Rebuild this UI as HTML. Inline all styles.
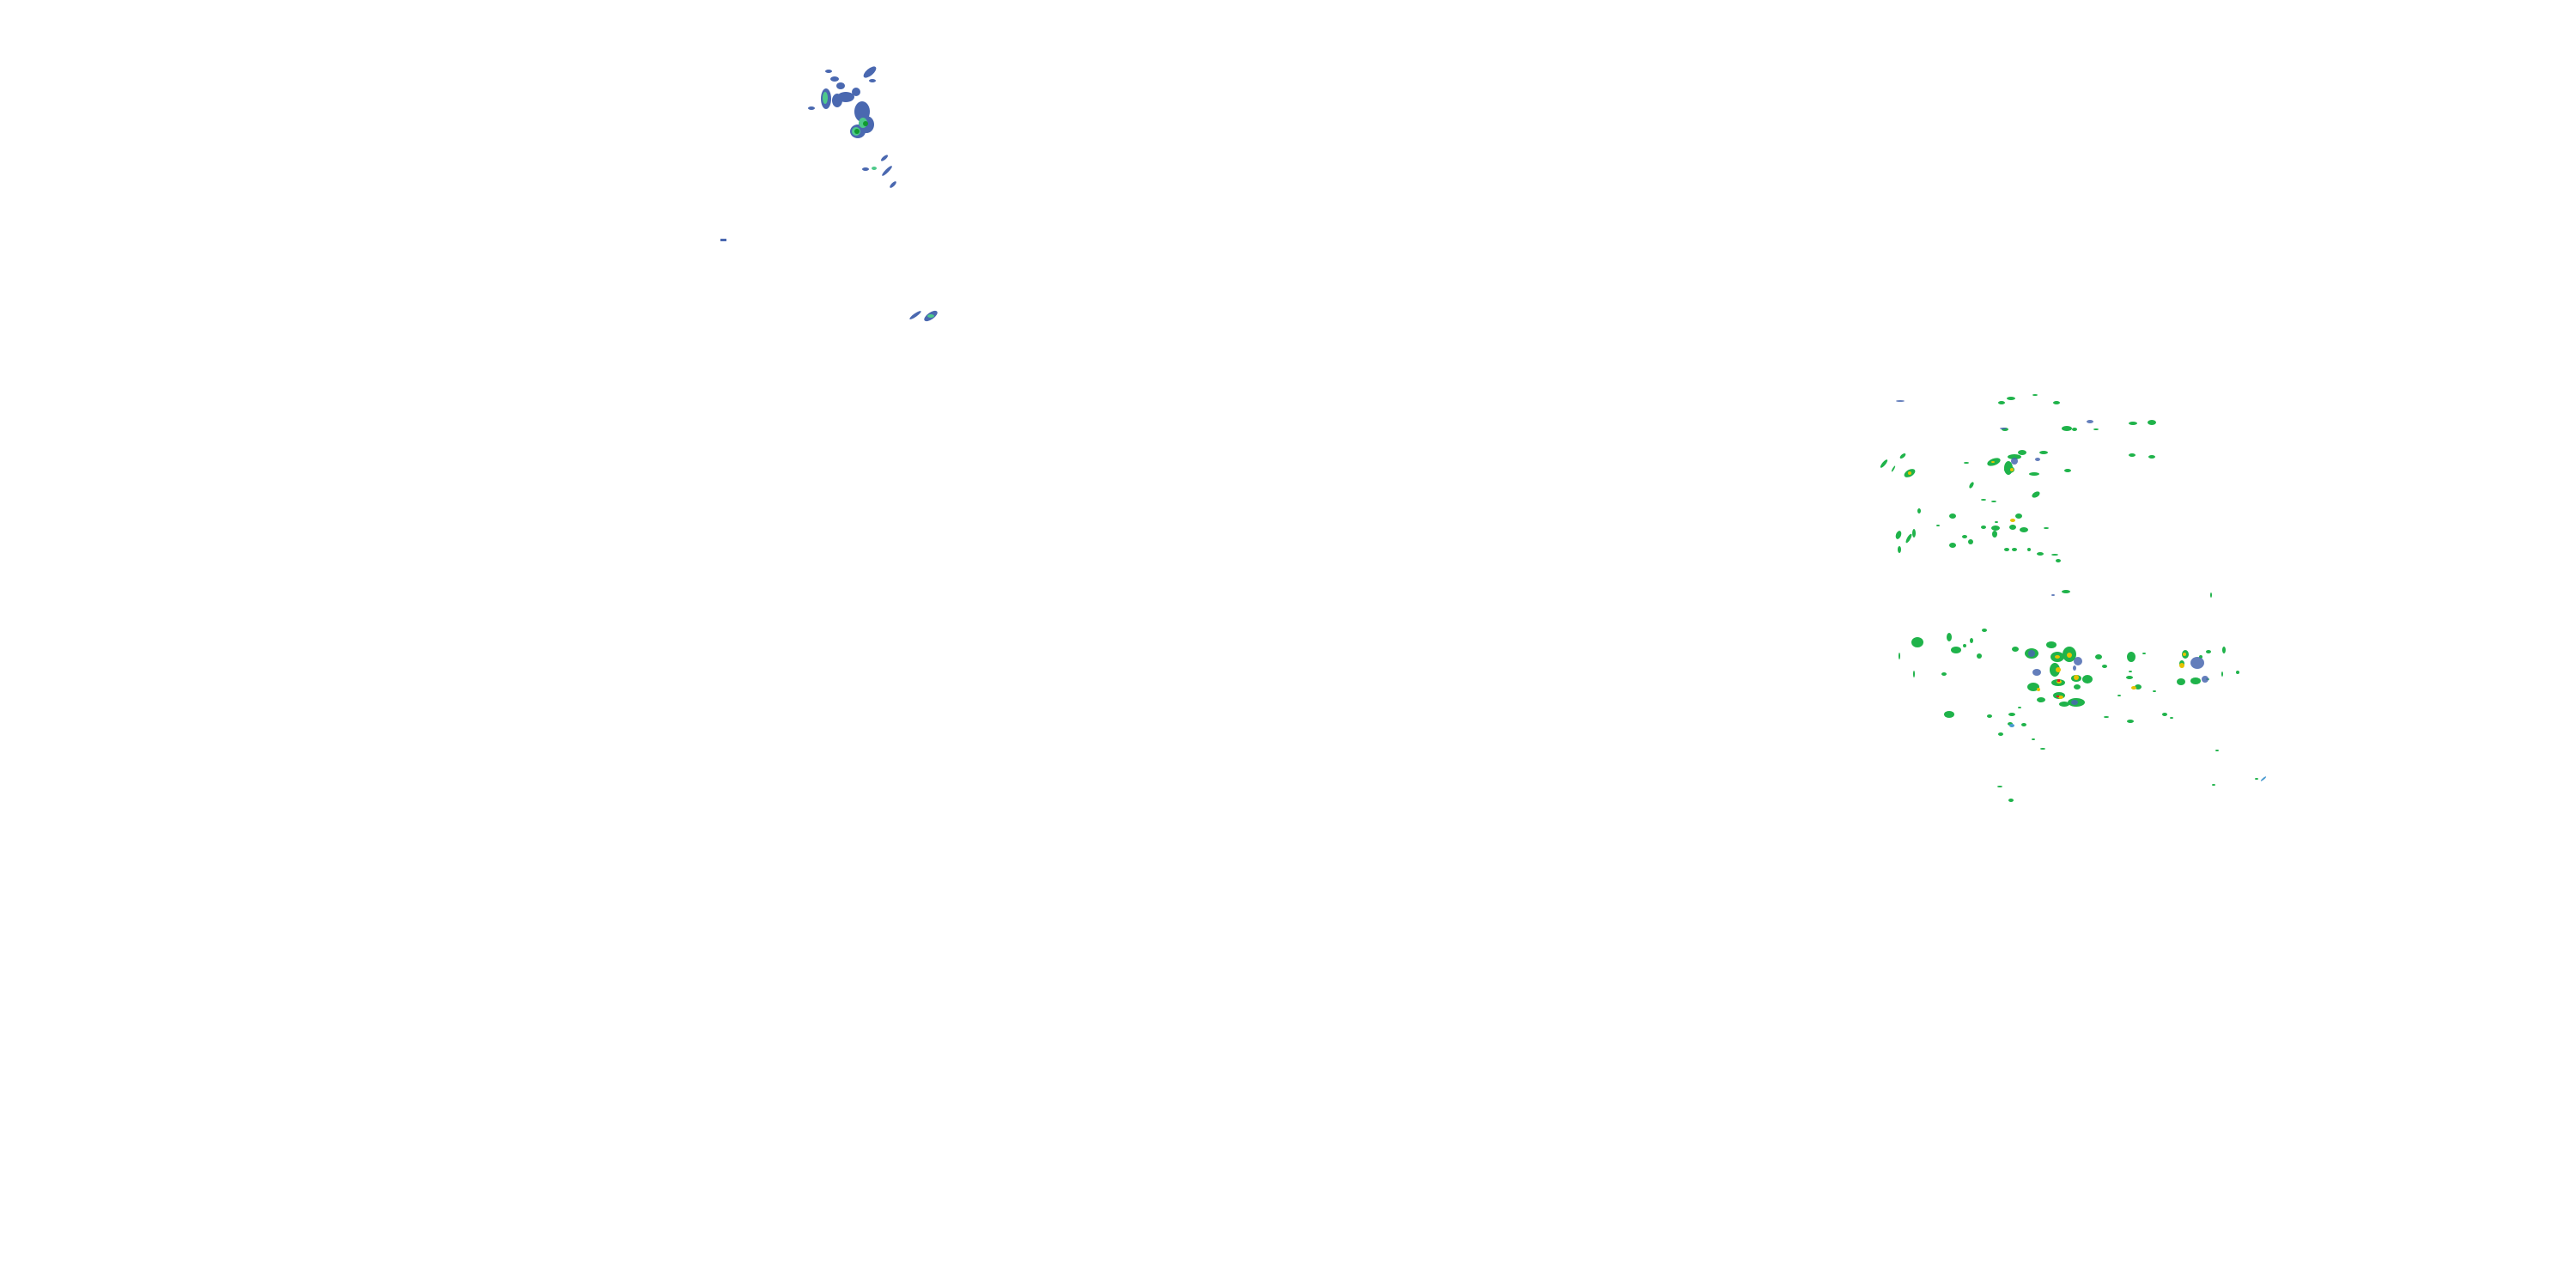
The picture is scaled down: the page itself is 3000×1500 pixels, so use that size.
<!DOCTYPE html>
<html><head><meta charset="utf-8"><style>
html,body{margin:0;padding:0;background:#fff;width:3000px;height:1500px;overflow:hidden}
svg{display:block}
</style></head><body>
<svg width="3000" height="1500" viewBox="0 0 3000 1500" xmlns="http://www.w3.org/2000/svg">
<g fill="#4a68b0">
<!-- top cluster -->
<ellipse cx="962" cy="115" rx="6" ry="12"/>
<ellipse cx="975" cy="117" rx="6" ry="8"/>
<ellipse cx="985" cy="113" rx="10" ry="6"/>
<ellipse cx="997" cy="107" rx="5" ry="5"/>
<ellipse cx="1004" cy="130" rx="9" ry="12"/>
<ellipse cx="1009" cy="145" rx="9" ry="10"/>
<ellipse cx="999" cy="153" rx="9" ry="8"/>
<ellipse cx="1013" cy="84" rx="9" ry="4" transform="rotate(-40 1013 84)"/>
<ellipse cx="1016" cy="94" rx="4" ry="2"/>
<ellipse cx="965" cy="83" rx="4" ry="2"/>
<ellipse cx="972" cy="92" rx="5" ry="3"/>
<ellipse cx="979" cy="100" rx="5" ry="4"/>
<ellipse cx="945" cy="126" rx="4" ry="2"/>
<ellipse cx="1030" cy="184" rx="5" ry="2" transform="rotate(-40 1030 184)"/>
<ellipse cx="1033" cy="199" rx="8" ry="2" transform="rotate(-45 1033 199)"/>
<ellipse cx="1008" cy="197" rx="4" ry="2"/>
<ellipse cx="1040" cy="215" rx="5" ry="2" transform="rotate(-45 1040 215)"/>
<rect x="839" y="278" width="7" height="3"/>
<ellipse cx="1066" cy="367" rx="8" ry="2" transform="rotate(-35 1066 367)"/>
<ellipse cx="1084" cy="368" rx="9" ry="4" transform="rotate(-35 1084 368)"/>
</g>
<g fill="#4ec98a">
<ellipse cx="961" cy="114" rx="3" ry="7"/>
<ellipse cx="1005" cy="143" rx="5" ry="6"/>
<ellipse cx="997" cy="153" rx="5" ry="5"/>
<ellipse cx="1084" cy="368" rx="4" ry="2"/>
<ellipse cx="1018" cy="196" rx="3" ry="2"/>
</g>
<g fill="#109a30">
<ellipse cx="1008" cy="144" rx="3" ry="3"/>
<ellipse cx="998" cy="153" rx="3" ry="3"/>
</g>
<!-- right cluster -->
<g fill="#1fb34a">
<ellipse cx="2342" cy="464" rx="5" ry="2"/><ellipse cx="2370" cy="460" rx="3" ry="1"/>
<ellipse cx="2395" cy="469" rx="4" ry="2"/><ellipse cx="2331" cy="469" rx="4" ry="2"/>
<ellipse cx="2335" cy="500" rx="4" ry="2"/><ellipse cx="2407" cy="499" rx="6" ry="3"/>
<ellipse cx="2416" cy="500" rx="3" ry="2"/><ellipse cx="2441" cy="500" rx="3" ry="1"/>
<ellipse cx="2484" cy="493" rx="5" ry="2"/><ellipse cx="2506" cy="492" rx="5" ry="3"/>
<ellipse cx="2483" cy="530" rx="4" ry="2"/><ellipse cx="2506" cy="532" rx="4" ry="2"/>
<ellipse cx="2194" cy="540" rx="2" ry="6" transform="rotate(40 2194 540)"/>
<ellipse cx="2216" cy="531" rx="4" ry="2" transform="rotate(-40 2216 531)"/>
<ellipse cx="2205" cy="546" rx="1" ry="4" transform="rotate(30 2205 546)"/>
<ellipse cx="2224" cy="551" rx="7" ry="4" transform="rotate(-30 2224 551)"/>
<ellipse cx="2290" cy="539" rx="3" ry="1"/>
<ellipse cx="2322" cy="538" rx="8" ry="4" transform="rotate(-20 2322 538)"/>
<ellipse cx="2339" cy="545" rx="5" ry="8"/><ellipse cx="2340" cy="547" rx="6" ry="4"/>
<ellipse cx="2346" cy="532" rx="8" ry="3"/><ellipse cx="2355" cy="527" rx="5" ry="3"/>
<ellipse cx="2369" cy="552" rx="6" ry="2"/><ellipse cx="2380" cy="527" rx="5" ry="2"/>
<ellipse cx="2408" cy="548" rx="4" ry="2"/>
<ellipse cx="2296" cy="565" rx="2" ry="4" transform="rotate(30 2296 565)"/>
<ellipse cx="2371" cy="576" rx="5" ry="3" transform="rotate(-30 2371 576)"/>
<ellipse cx="2310" cy="582" rx="3" ry="1"/><ellipse cx="2322" cy="584" rx="3" ry="1"/>
<ellipse cx="2235" cy="595" rx="2" ry="3"/><ellipse cx="2274" cy="601" rx="4" ry="3"/>
<ellipse cx="2351" cy="601" rx="4" ry="3"/><ellipse cx="2344" cy="614" rx="4" ry="3"/>
<ellipse cx="2310" cy="614" rx="3" ry="2"/><ellipse cx="2288" cy="625" rx="3" ry="2"/>
<ellipse cx="2325" cy="608" rx="2" ry="1"/>
<ellipse cx="2257" cy="612" rx="2" ry="1"/>
<ellipse cx="2211" cy="623" rx="3" ry="5" transform="rotate(20 2211 623)"/>
<ellipse cx="2223" cy="627" rx="2" ry="6" transform="rotate(30 2223 627)"/>
<ellipse cx="2229" cy="621" rx="2" ry="5"/>
<ellipse cx="2212" cy="640" rx="2" ry="4"/>
<ellipse cx="2274" cy="635" rx="4" ry="3"/><ellipse cx="2295" cy="631" rx="3" ry="3"/>
<ellipse cx="2324" cy="615" rx="5" ry="3"/><ellipse cx="2323" cy="622" rx="3" ry="4"/>
<ellipse cx="2357" cy="617" rx="5" ry="3"/><ellipse cx="2383" cy="615" rx="3" ry="1"/>
<ellipse cx="2337" cy="640" rx="3" ry="2"/><ellipse cx="2346" cy="640" rx="3" ry="2"/>
<ellipse cx="2363" cy="640" rx="2" ry="2"/><ellipse cx="2376" cy="645" rx="4" ry="2"/>
<ellipse cx="2393" cy="646" rx="4" ry="1"/><ellipse cx="2397" cy="653" rx="3" ry="2"/>
<ellipse cx="2406" cy="689" rx="5" ry="2"/><ellipse cx="2575" cy="693" rx="1" ry="3"/>
<!-- lower -->
<ellipse cx="2233" cy="748" rx="7" ry="6"/><ellipse cx="2212" cy="764" rx="1" ry="4"/>
<ellipse cx="2270" cy="742" rx="3" ry="5"/><ellipse cx="2278" cy="757" rx="6" ry="4"/>
<ellipse cx="2288" cy="752" rx="2" ry="2"/><ellipse cx="2296" cy="746" rx="2" ry="3"/>
<ellipse cx="2311" cy="734" rx="3" ry="2"/><ellipse cx="2305" cy="764" rx="3" ry="3"/>
<ellipse cx="2347" cy="756" rx="4" ry="3"/><ellipse cx="2366" cy="761" rx="8" ry="6"/>
<ellipse cx="2389" cy="751" rx="6" ry="4"/><ellipse cx="2396" cy="765" rx="8" ry="6"/>
<ellipse cx="2393" cy="780" rx="6" ry="8"/><ellipse cx="2410" cy="762" rx="8" ry="9"/>
<ellipse cx="2397" cy="795" rx="8" ry="4"/><ellipse cx="2398" cy="810" rx="7" ry="4"/>
<ellipse cx="2418" cy="790" rx="6" ry="4"/><ellipse cx="2419" cy="800" rx="4" ry="3"/>
<ellipse cx="2404" cy="820" rx="6" ry="3"/><ellipse cx="2418" cy="818" rx="10" ry="5"/>
<ellipse cx="2431" cy="791" rx="6" ry="5"/><ellipse cx="2451" cy="776" rx="3" ry="2"/>
<ellipse cx="2444" cy="765" rx="4" ry="3"/><ellipse cx="2482" cy="765" rx="5" ry="6"/>
<ellipse cx="2481" cy="782" rx="2" ry="1"/><ellipse cx="2490" cy="800" rx="4" ry="3"/>
<ellipse cx="2509" cy="805" rx="2" ry="1"/><ellipse cx="2468" cy="810" rx="2" ry="1"/>
<ellipse cx="2229" cy="785" rx="1" ry="4"/><ellipse cx="2264" cy="785" rx="3" ry="2"/>
<ellipse cx="2368" cy="800" rx="7" ry="5"/><ellipse cx="2377" cy="815" rx="5" ry="3"/>
<ellipse cx="2376" cy="816" rx="2" ry="2"/><ellipse cx="2352" cy="824" rx="2" ry="1"/>
<ellipse cx="2270" cy="832" rx="6" ry="4"/><ellipse cx="2343" cy="832" rx="4" ry="2"/>
<ellipse cx="2317" cy="834" rx="3" ry="2"/><ellipse cx="2341" cy="843" rx="3" ry="2"/>
<ellipse cx="2357" cy="844" rx="3" ry="2"/><ellipse cx="2330" cy="855" rx="3" ry="2"/>
<ellipse cx="2379" cy="872" rx="3" ry="1"/><ellipse cx="2368" cy="861" rx="2" ry="1"/>
<ellipse cx="2329" cy="916" rx="3" ry="1"/>
<ellipse cx="2342" cy="932" rx="3" ry="2"/>
<ellipse cx="2481" cy="840" rx="4" ry="2"/><ellipse cx="2453" cy="835" rx="3" ry="1"/>
<ellipse cx="2521" cy="832" rx="3" ry="2"/><ellipse cx="2529" cy="836" rx="2" ry="1"/>
<ellipse cx="2480" cy="789" rx="4" ry="2"/>
<ellipse cx="2497" cy="761" rx="2" ry="1"/>
<ellipse cx="2540" cy="794" rx="5" ry="4"/><ellipse cx="2557" cy="793" rx="6" ry="4"/>
<ellipse cx="2563" cy="765" rx="2" ry="2"/><ellipse cx="2572" cy="759" rx="3" ry="2"/>
<ellipse cx="2545" cy="762" rx="4" ry="5"/><ellipse cx="2541" cy="773" rx="3" ry="4"/>
<ellipse cx="2590" cy="757" rx="2" ry="4"/><ellipse cx="2588" cy="785" rx="1" ry="3"/>
<ellipse cx="2606" cy="783" rx="2" ry="2"/>
<ellipse cx="2571" cy="791" rx="2" ry="1"/>
<ellipse cx="2582" cy="874" rx="2" ry="1"/><ellipse cx="2628" cy="907" rx="2" ry="1"/>
<ellipse cx="2578" cy="914" rx="2" ry="1"/>
</g>
<g fill="#4a68b0" opacity="0.85">
<ellipse cx="2366" cy="761" rx="4" ry="4"/>
<ellipse cx="2420" cy="770" rx="5" ry="5"/>
<ellipse cx="2372" cy="783" rx="5" ry="4"/>
<ellipse cx="2416" cy="818" rx="4" ry="3"/>
<ellipse cx="2559" cy="772" rx="8" ry="7"/>
<ellipse cx="2568" cy="791" rx="4" ry="4"/>
<ellipse cx="2213" cy="467" rx="5" ry="1"/>
<ellipse cx="2333" cy="499" rx="4" ry="1"/>
<ellipse cx="2434" cy="491" rx="4" ry="2"/>
<ellipse cx="2346" cy="537" rx="4" ry="4"/>
<ellipse cx="2373" cy="535" rx="3" ry="2"/>
<ellipse cx="2391" cy="693" rx="2" ry="1"/>
<ellipse cx="2416" cy="778" rx="2" ry="3"/>
</g>
<g fill="#e6c200">
<ellipse cx="2321" cy="538" rx="2" ry="1"/>
<ellipse cx="2343" cy="547" rx="2" ry="2"/>
<ellipse cx="2224" cy="551" rx="2" ry="2"/>
<ellipse cx="2344" cy="606" rx="3" ry="2"/>
<ellipse cx="2396" cy="765" rx="3" ry="2"/>
<ellipse cx="2397" cy="780" rx="3" ry="3"/>
<ellipse cx="2410" cy="763" rx="3" ry="3"/>
<ellipse cx="2398" cy="794" rx="3" ry="2"/>
<ellipse cx="2400" cy="812" rx="3" ry="2"/>
<ellipse cx="2418" cy="789" rx="3" ry="3"/>
<ellipse cx="2485" cy="801" rx="3" ry="2"/>
<ellipse cx="2541" cy="775" rx="3" ry="3"/>
<ellipse cx="2544" cy="762" rx="2" ry="2"/>
<ellipse cx="2374" cy="803" rx="2" ry="2"/>
</g>
<g fill="#e02020">
<rect x="2396" y="791" width="3" height="3"/>
<rect x="2395" y="810" width="3" height="2"/>
</g>
<g fill="#4a9ad0">
<ellipse cx="2636" cy="907" rx="4" ry="1" transform="rotate(-40 2636 907)"/>
<ellipse cx="2343" cy="845" rx="3" ry="2"/>
</g>
</svg>
</body></html>
